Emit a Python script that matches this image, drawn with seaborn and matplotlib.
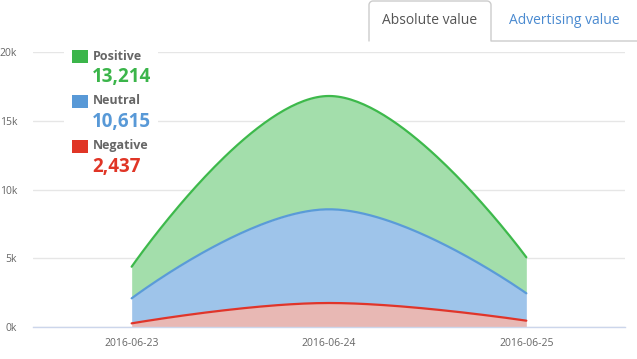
import numpy as np
import pandas as pd
import matplotlib
matplotlib.use("Agg")
import matplotlib.pyplot as plt
from matplotlib.patches import Rectangle, FancyBboxPatch
from matplotlib.lines import Line2D
import seaborn as sns

# ---- data ----
dates = ["2016-06-23", "2016-06-24", "2016-06-25"]
negative = [265, 1745, 460]
neutral = [1820, 6815, 1990]
positive = [2300, 8240, 2620]
series_names = ["Positive", "Neutral", "Negative"]
series_totals = ["13,214", "10,615", "2,437"]
y_ticks = [0, 5000, 10000, 15000, 20000]
y_tick_labels = ["0k", "5k", "10k", "15k", "20k"]
tab_labels = ["Absolute value", "Advertising value"]

line_colors = {"Positive": "#3db94b", "Neutral": "#5a9bd8", "Negative": "#e0352a"}
fill_colors = {"Positive": "#a3deab", "Neutral": "#9ec4ea", "Negative": "#e8b8b4"}
legend_colors = {"Positive": "#3bb54a", "Neutral": "#5899d7", "Negative": "#e03526"}

sns.set_style("white")
plt.rcParams["font.family"] = ["Open Sans", "DejaVu Sans"]


def hc_spline(xs, ys, n=80):
    """Highcharts-style areaspline curve through the given points."""
    sm, den = 1.5, 2.5
    N = len(xs)
    lc = [None] * N
    rc = [None] * N
    for i in range(1, N - 1):
        x, y = xs[i], ys[i]
        lx, ly = xs[i - 1], ys[i - 1]
        nx, ny = xs[i + 1], ys[i + 1]
        lcx = (sm * x + lx) / den
        lcy = (sm * y + ly) / den
        rcx = (sm * x + nx) / den
        rcy = (sm * y + ny) / den
        if rcx != lcx:
            corr = ((rcy - lcy) * (rcx - x)) / (rcx - lcx) + y - rcy
            lcy += corr
            rcy += corr
        if lcy > ly and lcy > y:
            lcy = max(ly, y); rcy = 2 * y - lcy
        elif lcy < ly and lcy < y:
            lcy = min(ly, y); rcy = 2 * y - lcy
        if rcy > ny and rcy > y:
            rcy = max(ny, y); lcy = 2 * y - rcy
        elif rcy < ny and rcy < y:
            rcy = min(ny, y); lcy = 2 * y - rcy
        lc[i] = (lcx, lcy)
        rc[i] = (rcx, rcy)
    rc[0] = (xs[0], ys[0])
    lc[N - 1] = (xs[-1], ys[-1])
    t = np.linspace(0, 1, n)
    outx, outy = [], []
    for i in range(N - 1):
        p0 = np.array([xs[i], ys[i]])
        c1 = np.array(rc[i])
        c2 = np.array(lc[i + 1])
        p3 = np.array([xs[i + 1], ys[i + 1]])
        b = ((1 - t) ** 3)[:, None] * p0 + (3 * (1 - t) ** 2 * t)[:, None] * c1 \
            + (3 * (1 - t) * t ** 2)[:, None] * c2 + (t ** 3)[:, None] * p3
        if i > 0:
            b = b[1:]
        outx.extend(b[:, 0]); outy.extend(b[:, 1])
    return np.array(outx), np.array(outy)


W, H = 637, 359
fig = plt.figure(figsize=(W / 100, H / 100), dpi=100)
ax = fig.add_axes([33 / W, 32 / H, 592 / W, 275 / H])

xpos = list(range(len(dates)))
cum_neg = np.array(negative, dtype=float)
cum_neu = cum_neg + np.array(neutral)
cum_pos = cum_neu + np.array(positive)

sx, s_neg = hc_spline(xpos, cum_neg)
_, s_neu = hc_spline(xpos, cum_neu)
_, s_pos = hc_spline(xpos, cum_pos)

ax.fill_between(sx, s_neu, s_pos, color=fill_colors["Positive"], lw=0, zorder=2)
ax.fill_between(sx, s_neg, s_neu, color=fill_colors["Neutral"], lw=0, zorder=2)
ax.fill_between(sx, 0, s_neg, color=fill_colors["Negative"], lw=0, zorder=2)

df = pd.DataFrame({
    "x": np.concatenate([sx, sx, sx]),
    "y": np.concatenate([s_pos, s_neu, s_neg]),
    "series": ["Positive"] * len(sx) + ["Neutral"] * len(sx) + ["Negative"] * len(sx),
})
sns.lineplot(data=df, x="x", y="y", hue="series", palette=line_colors,
             linewidth=1.6, legend=False, ax=ax, zorder=3, sort=False,
             estimator=None)

ax.set_xlim(-0.5, 2.5)
ax.set_ylim(0, 20000)
ax.set_yticks(y_ticks)
ax.set_yticklabels(y_tick_labels)
ax.set_xticks(xpos)
ax.set_xticklabels(dates)
ax.set_xlabel("")
ax.set_ylabel("")
ax.grid(axis="y", color="#e6e6e6", lw=1, zorder=0)
ax.set_axisbelow(True)
for s in ["top", "right", "left"]:
    ax.spines[s].set_visible(False)
ax.spines["bottom"].set_color("#ccd6eb")
ax.spines["bottom"].set_linewidth(1)
ax.spines["bottom"].set_zorder(4)
ax.tick_params(axis="y", length=0, pad=11.5, labelsize=7.5, labelcolor="#666666")
ax.tick_params(axis="x", length=6, width=1, color="#ccd6eb", direction="out",
               pad=2, labelsize=7.5, labelcolor="#666666")

# ---- overlay (legend + tabs), pixel coordinates ----
ov = fig.add_axes([0, 0, 1, 1], zorder=10)
ov.set_xlim(0, W)
ov.set_ylim(H, 0)
ov.axis("off")
ov.patch.set_alpha(0)

ov.add_patch(Rectangle((64, 40), 94, 140, facecolor="white", edgecolor="none"))
item_y = [56, 101, 146]
for name, total, yy in zip(series_names, series_totals, item_y):
    ov.add_patch(Rectangle((72, yy - 6.5), 16, 13, facecolor=legend_colors[name],
                           edgecolor="none"))
    ov.text(93, yy, name, fontsize=9, fontweight="bold", color="#666666",
            va="center", ha="left")
    ov.text(92, yy + 21, total, fontsize=13.5, fontweight="bold",
            color=legend_colors[name], va="center", ha="left")

# tabs
r = 4
tab_l, tab_r, tab_t, tab_b = 369, 491, 1, 41
tx = [tab_l, tab_l]
ty = [tab_b, tab_t + r]
ang = np.linspace(np.pi, 1.5 * np.pi, 10)
tx += list(tab_l + r + r * np.cos(ang)); ty += list(tab_t + r + r * np.sin(ang))
ang = np.linspace(1.5 * np.pi, 2 * np.pi, 10)
tx += list(tab_r - r + r * np.cos(ang)); ty += list(tab_t + r + r * np.sin(ang))
tx += [tab_r, tab_r, W]
ty += [tab_t + r, tab_b, tab_b]
ov.plot(tx, ty, color="#cccccc", lw=1)
ov.text(430, 21, tab_labels[0], fontsize=10, color="#555555", ha="center", va="center")
ov.text(564, 21, tab_labels[1], fontsize=10, color="#4a8ad0", ha="center", va="center")

fig.savefig("out.png", dpi=100)
